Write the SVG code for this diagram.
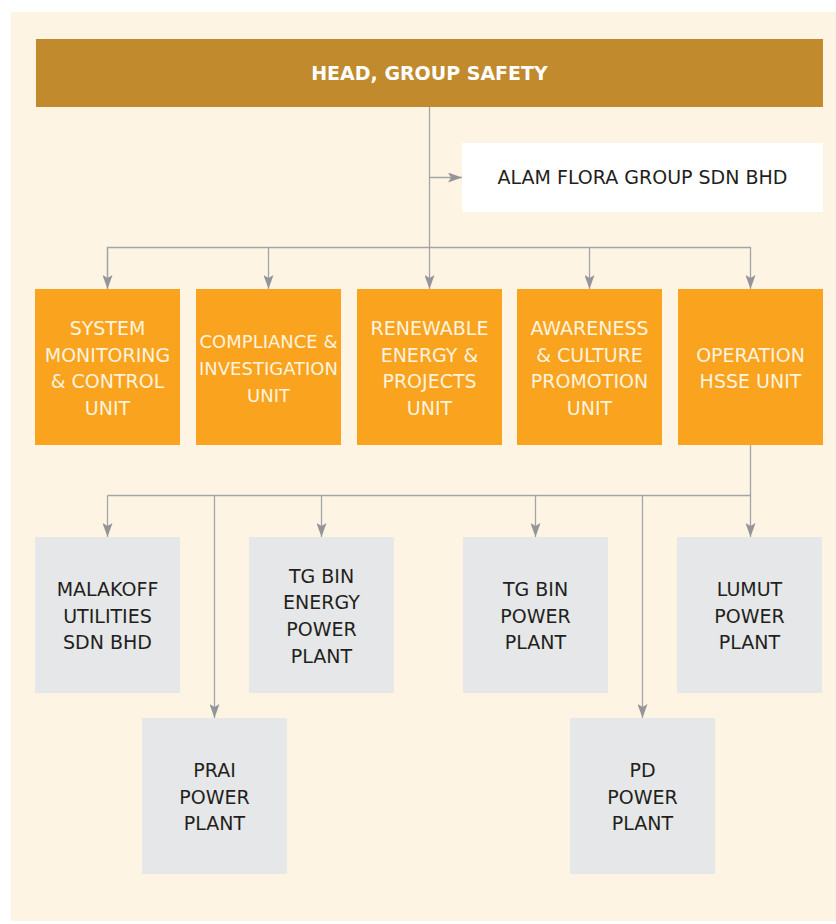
<svg xmlns="http://www.w3.org/2000/svg" width="836" height="924" viewBox="0 0 836 924">
<style>
.bg{fill:#FEF4E4}
.head{fill:#C08A2D}
.unit{fill:#F9A31F}
.plant{fill:#E6E7E8}
.white{fill:#FFFFFF}
text{font-family:"DejaVu Sans","Liberation Sans",sans-serif;font-size:19px;text-anchor:middle}
.ht{fill:#FFFFFF;font-weight:bold}
.ut{fill:#FFF3DF}
.dt{fill:#231F20}
.conn{fill:none;stroke:#A4A5A8;stroke-width:1.3}
</style>
<defs>
<marker id="arr" markerUnits="userSpaceOnUse" viewBox="0 0 14 10" refX="14" refY="5" markerWidth="14" markerHeight="10" orient="auto">
<path d="M0,0 L14,5 L0,10 L3,5 z" fill="#939598"/>
</marker>
</defs>
<rect class="bg" x="11" y="12" width="825" height="909"/>
<g id="connectors">
<line class="conn" x1="429.5" y1="107" x2="429.5" y2="289" marker-end="url(#arr)"/>
<line class="conn" x1="429.5" y1="177.5" x2="462" y2="177.5" marker-end="url(#arr)"/>
<polyline class="conn" points="107.5,289 107.5,247.5 750.5,247.5 750.5,289" marker-end="url(#arr)"/>
<line class="conn" x1="107.5" y1="247.5" x2="107.5" y2="289" marker-end="url(#arr)"/>
<line class="conn" x1="268.5" y1="247.5" x2="268.5" y2="289" marker-end="url(#arr)"/>
<line class="conn" x1="589.5" y1="247.5" x2="589.5" y2="289" marker-end="url(#arr)"/>
<polyline class="conn" points="750.5,445 750.5,495.5 107.5,495.5"/>
<line class="conn" x1="107.5" y1="495.5" x2="107.5" y2="537" marker-end="url(#arr)"/>
<line class="conn" x1="214.5" y1="495.5" x2="214.5" y2="718" marker-end="url(#arr)"/>
<line class="conn" x1="321.5" y1="495.5" x2="321.5" y2="537" marker-end="url(#arr)"/>
<line class="conn" x1="535.5" y1="495.5" x2="535.5" y2="537" marker-end="url(#arr)"/>
<line class="conn" x1="642.5" y1="495.5" x2="642.5" y2="718" marker-end="url(#arr)"/>
<line class="conn" x1="750.5" y1="495.5" x2="750.5" y2="537" marker-end="url(#arr)"/>
</g>
<g id="head">
<rect class="head" x="36" y="39" width="787" height="68"/>
<text class="ht" x="429.5" y="80">HEAD, GROUP SAFETY</text>
</g>
<g id="alam-flora">
<rect class="white" x="462" y="143" width="361" height="69"/>
<text class="dt" x="642.5" y="184">ALAM FLORA GROUP SDN BHD</text>
</g>
<g id="system-monitoring">
<rect class="unit" x="35" y="289" width="145" height="156"/>
<text class="ut" x="107.5" y="335">SYSTEM</text>
<text class="ut" x="107.5" y="361.7">MONITORING</text>
<text class="ut" x="107.5" y="388.4">&amp; CONTROL</text>
<text class="ut" x="107.5" y="415">UNIT</text>
</g>
<g id="compliance">
<rect class="unit" x="196" y="289" width="145" height="156"/>
<text class="ut" x="268.5" y="348.3" style="font-size:18px">COMPLIANCE &amp;</text>
<text class="ut" x="268.5" y="375" style="font-size:18px">INVESTIGATION</text>
<text class="ut" x="268.5" y="401.7" style="font-size:18px">UNIT</text>
</g>
<g id="renewable">
<rect class="unit" x="357" y="289" width="145" height="156"/>
<text class="ut" x="429.5" y="335">RENEWABLE</text>
<text class="ut" x="429.5" y="361.7">ENERGY &amp;</text>
<text class="ut" x="429.5" y="388.4">PROJECTS</text>
<text class="ut" x="429.5" y="415">UNIT</text>
</g>
<g id="awareness">
<rect class="unit" x="517" y="289" width="145" height="156"/>
<text class="ut" x="589.5" y="335">AWARENESS</text>
<text class="ut" x="589.5" y="361.7">&amp; CULTURE</text>
<text class="ut" x="589.5" y="388.4">PROMOTION</text>
<text class="ut" x="589.5" y="415">UNIT</text>
</g>
<g id="operation-hsse">
<rect class="unit" x="678" y="289" width="145" height="156"/>
<text class="ut" x="750.5" y="361.7">OPERATION</text>
<text class="ut" x="750.5" y="388.4">HSSE UNIT</text>
</g>
<g id="malakoff">
<rect class="plant" x="35" y="537" width="145" height="156"/>
<text class="dt" x="107.5" y="596">MALAKOFF</text>
<text class="dt" x="107.5" y="622.7">UTILITIES</text>
<text class="dt" x="107.5" y="649.4">SDN BHD</text>
</g>
<g id="tg-bin-energy">
<rect class="plant" x="249" y="537" width="145" height="156"/>
<text class="dt" x="321.5" y="582.5">TG BIN</text>
<text class="dt" x="321.5" y="609.2">ENERGY</text>
<text class="dt" x="321.5" y="635.9">POWER</text>
<text class="dt" x="321.5" y="662.6">PLANT</text>
</g>
<g id="tg-bin-power">
<rect class="plant" x="463" y="537" width="145" height="156"/>
<text class="dt" x="535.5" y="596">TG BIN</text>
<text class="dt" x="535.5" y="622.7">POWER</text>
<text class="dt" x="535.5" y="649.4">PLANT</text>
</g>
<g id="lumut">
<rect class="plant" x="677" y="537" width="145" height="156"/>
<text class="dt" x="749.5" y="596">LUMUT</text>
<text class="dt" x="749.5" y="622.7">POWER</text>
<text class="dt" x="749.5" y="649.4">PLANT</text>
</g>
<g id="prai">
<rect class="plant" x="142" y="718" width="145" height="156"/>
<text class="dt" x="214.5" y="777">PRAI</text>
<text class="dt" x="214.5" y="803.7">POWER</text>
<text class="dt" x="214.5" y="830.4">PLANT</text>
</g>
<g id="pd">
<rect class="plant" x="570" y="718" width="145" height="156"/>
<text class="dt" x="642.5" y="777">PD</text>
<text class="dt" x="642.5" y="803.7">POWER</text>
<text class="dt" x="642.5" y="830.4">PLANT</text>
</g>
</svg>
